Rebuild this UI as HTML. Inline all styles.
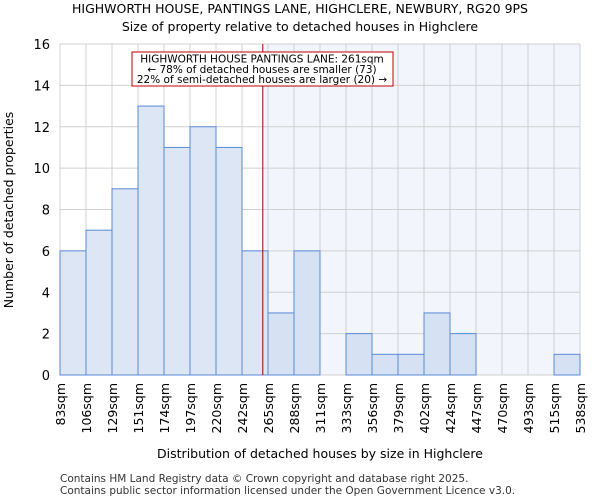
<!DOCTYPE html>
<html><head><meta charset="utf-8"><style>
body{margin:0;background:#fff;font-family:"DejaVu Sans","Liberation Sans",sans-serif}
</style></head><body>
<svg width="600" height="500" xmlns="http://www.w3.org/2000/svg" font-family="DejaVu Sans, Liberation Sans, sans-serif">
<text x="300" y="13" text-anchor="middle" font-size="12.5">HIGHWORTH HOUSE, PANTINGS LANE, HIGHCLERE, NEWBURY, RG20 9PS</text>
<text x="300" y="31" text-anchor="middle" font-size="12.5">Size of property relative to detached houses in Highclere</text>
<g id="plot"></g>
<text x="320" y="458" text-anchor="middle" font-size="12.5">Distribution of detached houses by size in Highclere</text>
<text transform="translate(13,210) rotate(-90)" text-anchor="middle" font-size="12.5">Number of detached properties</text>
<text x="60" y="482" font-size="10.5" fill="#333">Contains HM Land Registry data © Crown copyright and database right 2025.</text>
<text x="60" y="494" font-size="10.5" fill="#333">Contains public sector information licensed under the Open Government Licence v3.0.</text>
</svg>
<script>
const categories=["83sqm","106sqm","129sqm","151sqm","174sqm","197sqm","220sqm","242sqm","265sqm","288sqm","311sqm","333sqm","356sqm","379sqm","402sqm","424sqm","447sqm","470sqm","493sqm","515sqm","538sqm"];
const counts=[6,7,9,13,11,12,11,6,3,6,0,2,1,1,3,2,0,0,0,1];
const yTicks=[0,2,4,6,8,10,12,14,16];
const markerBin=7.8;
const L=60,R=580,T=44,B=375,yMax=16;
const bw=(R-L)/counts.length;
const x=i=>L+i*bw, y=v=>B-(v/yMax)*(B-T);
const ns="http://www.w3.org/2000/svg", g=document.getElementById('plot');
function mk(t,a){const e=document.createElementNS(ns,t);for(const k in a)e.setAttribute(k,a[k]);g.appendChild(e);return e;}
const mx=x(markerBin);
let e=mk('rect',{x:mx,y:T,width:R-mx,height:B-T,fill:'#f2f5fc'});


for(let i=0;i<=counts.length;i++){e=mk('line',{x1:x(i),x2:x(i),y1:T,y2:B,stroke:'#d0d0d0','stroke-width':1});

}
yTicks.forEach(t=>{e=mk('line',{x1:L,x2:R,y1:y(t),y2:y(t),stroke:'#d0d0d0','stroke-width':1});


e=mk('text',{x:L-10,y:y(t)+5,'text-anchor':'end','font-size':13});e.textContent=t;

});
counts.forEach((v,i)=>{if(!v)return;e=mk('rect',{x:x(i),y:y(v),width:bw,height:B-y(v),fill:i>=8?'#d6e1f3':'#dce6f4',stroke:'#5a8ad6','stroke-width':1});

});
categories.forEach((c,i)=>{e=mk('text',{transform:`translate(${x(i)+5},383) rotate(-90)`,'text-anchor':'end','font-size':12.5});e.textContent=c;

});
e=mk('line',{x1:mx,x2:mx,y1:T,y2:B,stroke:'#a00000','stroke-width':1});


e=mk('rect',{x:132,y:52,width:261,height:34,fill:'#fff',stroke:'#c00000','stroke-width':1});


["HIGHWORTH HOUSE PANTINGS LANE: 261sqm","← 78% of detached houses are smaller (73)","22% of semi-detached houses are larger (20) →"].forEach((s,k)=>{
e=mk('text',{x:262,y:62.5+k*10.3,'text-anchor':'middle','font-size':10.5});e.textContent=s;

});
</script>
</body></html>
